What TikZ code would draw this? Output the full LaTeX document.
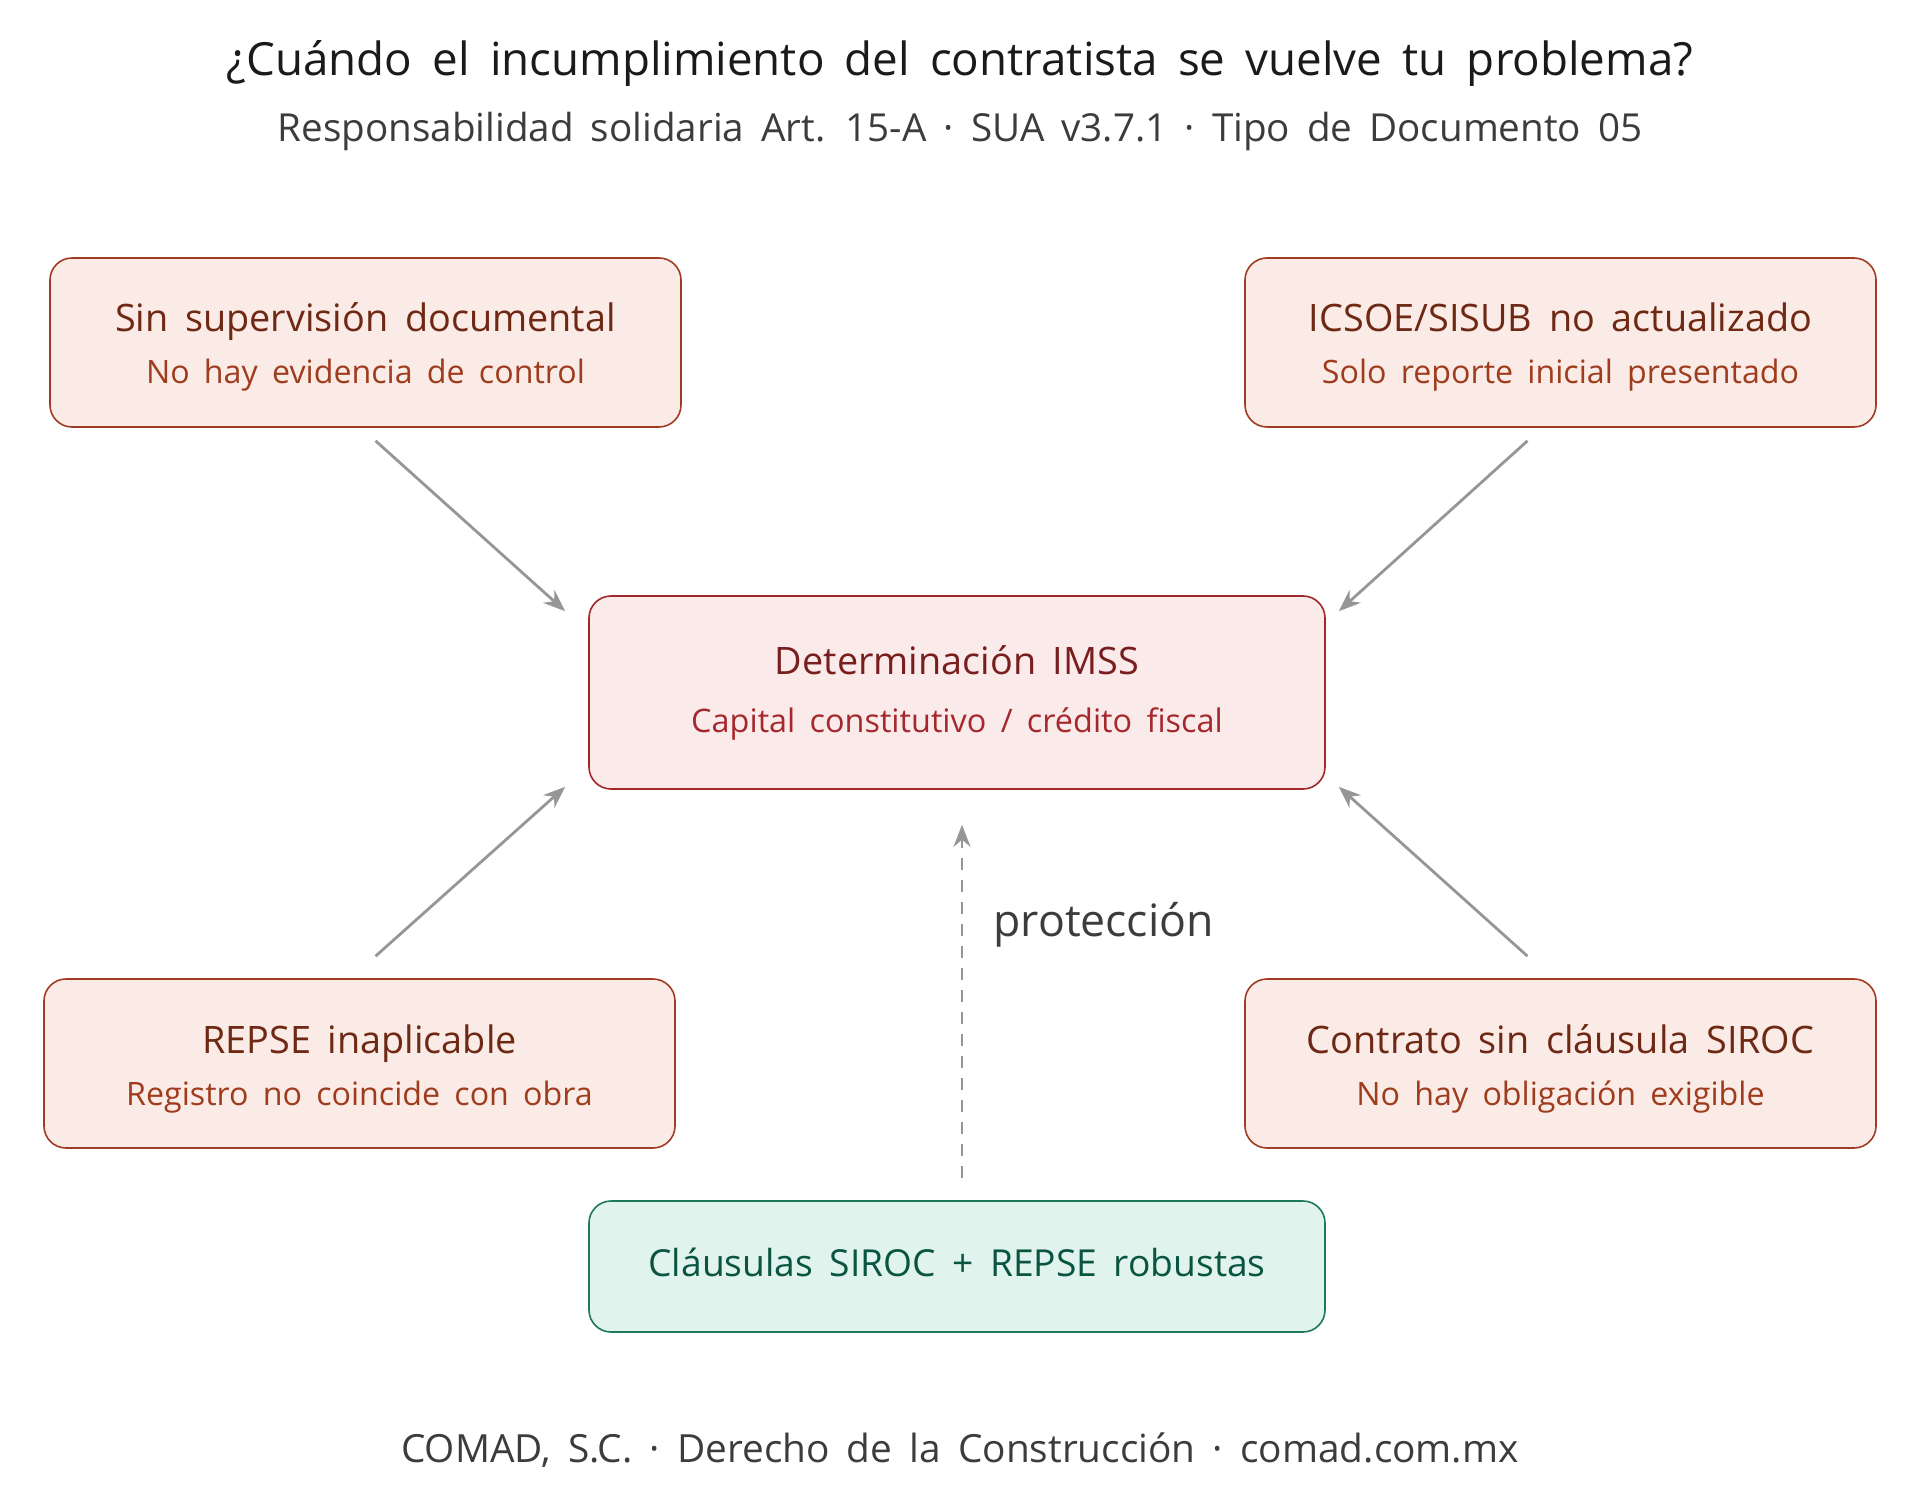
\documentclass[tikz,border=0pt]{standalone}
\usepackage{fontspec}
\setmainfont{Open Sans}[WordSpace=1.7]
\usetikzlibrary{arrows.meta,calc,positioning}
\definecolor{RiskFill}{RGB}{250,235,230}
\definecolor{RiskLine}{RGB}{160,60,35}
\definecolor{RiskHead}{RGB}{110,40,20}
\definecolor{RiskSub}{RGB}{160,60,30}
\definecolor{ImssFill}{RGB}{251,234,234}
\definecolor{ImssLine}{RGB}{160,40,40}
\definecolor{ImssHead}{RGB}{120,30,30}
\definecolor{ImssSub}{RGB}{165,40,45}
\definecolor{ProtFill}{RGB}{224,243,236}
\definecolor{ProtLine}{RGB}{30,120,90}
\definecolor{ProtText}{RGB}{10,85,65}
\definecolor{ArrowGray}{RGB}{150,150,150}
\definecolor{InkDark}{RGB}{26,26,26}
\definecolor{InkMid}{RGB}{60,60,60}

\tikzset{
  riskbox/.style={draw=RiskLine,fill=RiskFill,line width=0.8pt,rounded corners=11pt,
    minimum width=315.5pt,minimum height=84.5pt},
  imssbox/.style={draw=ImssLine,fill=ImssFill,line width=0.8pt,rounded corners=11pt,
    minimum width=368pt,minimum height=96.5pt},
  protbox/.style={draw=ProtLine,fill=ProtFill,line width=0.8pt,rounded corners=11pt,
    minimum width=368pt,minimum height=65.5pt},
  txt/.style={anchor=base,inner sep=0pt},
  riskhead/.style={txt,RiskHead,font=\fontsize{18.9}{23}\selectfont},
  risksub/.style={txt,RiskSub,font=\fontsize{16.1}{20}\selectfont},
  flecha/.style={draw=ArrowGray,line width=1.4pt,-{Stealth[length=11pt,width=8.5pt]}},
}

\begin{document}
\begin{tikzpicture}[x=0.5pt,y=-0.5pt]
  \useasboundingbox (0,0) rectangle (1920,1507);
  % titulo
  \node[txt,InkDark,font=\fontsize{22.85}{27}\selectfont] (titulo) at (960,76)
    {¿Cuándo el incumplimiento del contratista se vuelve tu problema?};
  \node[txt,InkMid,font=\fontsize{19.3}{23}\selectfont] (subtitulo) at (960,142)
    {Responsabilidad solidaria Art. 15-A · SUA v3.7.1 · Tipo de Documento 05};

  % causas
  \node[riskbox] (tl) at (365.5,342.5) {};
  \node[riskbox] (tr) at (1560.5,342.5) {};
  \node[riskbox] (bl) at (359.5,1063.5) {};
  \node[riskbox] (br) at (1560.5,1063.5) {};
  \node[riskhead] (tl-h) at ($(tl.center)+(0,-10.5)$) {Sin supervisión documental};
  \node[risksub]  (tl-s) at ($(tl.center)+(0,41.5)$)  {No hay evidencia de control};
  \node[riskhead] (tr-h) at ($(tr.center)+(0,-10.5)$) {ICSOE/SISUB no actualizado};
  \node[risksub]  (tr-s) at ($(tr.center)+(0,41.5)$)  {Solo reporte inicial presentado};
  \node[riskhead] (bl-h) at ($(bl.center)+(0,-10.5)$) {REPSE inaplicable};
  \node[risksub]  (bl-s) at ($(bl.center)+(0,41.5)$)  {Registro no coincide con obra};
  \node[riskhead] (br-h) at ($(br.center)+(0,-10.5)$) {Contrato sin cláusula SIROC};
  \node[risksub]  (br-s) at ($(br.center)+(0,41.5)$)  {No hay obligación exigible};

  % determinacion
  \node[imssbox] (imss) at (957,692.5) {};
  \node[txt,ImssHead,font=\fontsize{18.9}{23}\selectfont] (imss-h) at ($(imss.center)+(0,-18.5)$)
    {Determinación IMSS};
  \node[txt,ImssSub,font=\fontsize{16.2}{20}\selectfont] (imss-s) at ($(imss.center)+(0,39.5)$)
    {Capital constitutivo / crédito fiscal};

  % proteccion
  \node[protbox] (prot) at (957,1266.5) {};
  \node[txt,ProtText,font=\fontsize{18.6}{22}\selectfont] (prot-t) at ($(prot.center)+(0,9.5)$)
    {Cláusulas SIROC + REPSE robustas};

  \draw[flecha] ($(tl.south)+(10,13)$) -- ($(imss.north west)+(-23,16)$);
  \draw[flecha] ($(tr.south)+(-33,13)$) -- ($(imss.north east)+(13,16)$);
  \draw[flecha] ($(bl.north)+(16,-22)$) -- ($(imss.south west)+(-23,-3)$);
  \draw[flecha] ($(br.north)+(-33,-22)$) -- ($(imss.south east)+(13,-3)$);
  \draw[flecha,dash pattern=on 6pt off 5pt] ($(prot.north)+(5,-22)$) -- ($(imss.south)+(5,35)$)
    node[pos=0.685,anchor=base west,inner sep=0pt,xshift=15pt,InkMid,
      font=\fontsize{22.3}{26}\selectfont] (etiqueta) {protección};

  \node[txt,InkMid,font=\fontsize{19.4}{23}\selectfont] (pie) at (960,1462)
    {COMAD, S.C. · Derecho de la Construcción · comad.com.mx};
\end{tikzpicture}
\end{document}
